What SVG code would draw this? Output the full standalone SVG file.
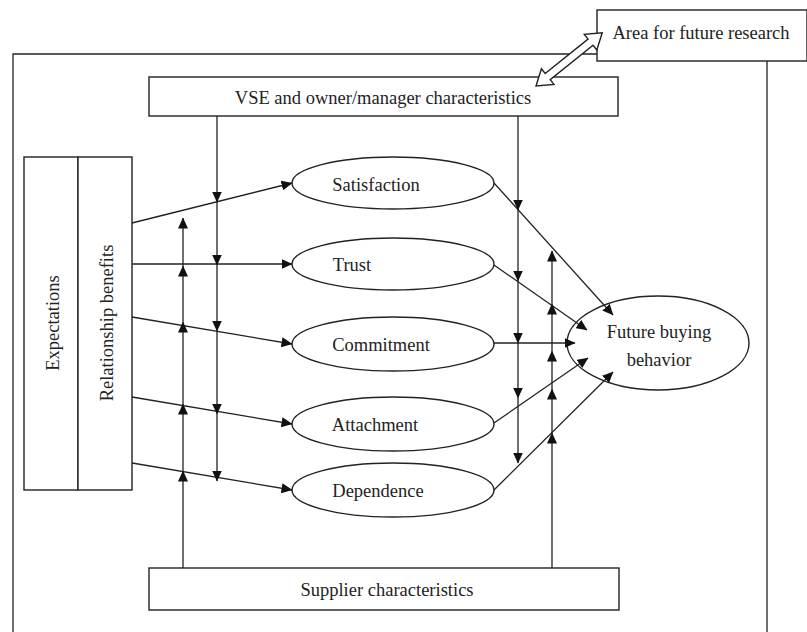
<svg xmlns="http://www.w3.org/2000/svg" width="807" height="632" viewBox="0 0 807 632">
<style>
.b{fill:#fff;stroke:#222;stroke-width:1.4}
.l{fill:none;stroke:#222;stroke-width:1.3}
.a{fill:none;stroke:#222;stroke-width:1.3;marker-end:url(#ah)}
.t{font-family:"Liberation Serif","Times New Roman",serif;font-size:18.5px;fill:#222;text-anchor:middle}
</style>
<defs>
<marker id="ah" markerWidth="11" markerHeight="10" refX="10.5" refY="5" orient="auto" markerUnits="userSpaceOnUse"><path d="M0,0 L11,5 L0,10 z" fill="#111"/></marker>
</defs>
<rect width="807" height="632" fill="#fff"/>
<g id="frame"><path class="l" d="M13,632 V54 H597 M767,61 V632"/></g>
<g id="area"><rect class="b" x="597" y="10" width="210" height="51"/><text class="t" x="701" y="39">Area for future research</text></g>
<g id="vse"><rect class="b" x="149" y="77" width="469" height="39"/><text class="t" x="383" y="104">VSE and owner/manager characteristics</text></g>
<g id="double-arrow"><polygon class="b" transform="translate(536,86) rotate(-38.8)" points="0,0 15,-10 15,-4 70,-4 70,-10 85,0 70,10 70,4 15,4 15,10"/></g>
<g id="supplier"><rect class="b" x="149" y="568" width="470" height="42"/><text class="t" x="387" y="596">Supplier characteristics</text></g>
<g id="expectations"><rect class="b" x="24" y="157" width="54" height="333"/><text class="t" transform="translate(59,323) rotate(-90)">Expectations</text></g>
<g id="benefits"><rect class="b" x="78" y="157" width="54" height="333"/><text class="t" transform="translate(113,323) rotate(-90)">Relationship benefits</text></g>
<g id="satisfaction"><ellipse class="b" cx="393" cy="183" rx="101" ry="26"/><text class="t" x="376" y="191">Satisfaction</text></g>
<g id="trust"><ellipse class="b" cx="393" cy="264" rx="101" ry="26"/><text class="t" x="352" y="271">Trust</text></g>
<g id="commitment"><ellipse class="b" cx="393" cy="344" rx="101" ry="27"/><text class="t" x="381" y="351">Commitment</text></g>
<g id="attachment"><ellipse class="b" cx="393" cy="424" rx="101" ry="27"/><text class="t" x="375" y="431">Attachment</text></g>
<g id="dependence"><ellipse class="b" cx="393" cy="490" rx="101" ry="27"/><text class="t" x="378" y="497">Dependence</text></g>
<g id="future"><ellipse class="b" cx="658" cy="343" rx="91" ry="47"/><text class="t" x="659" y="338">Future buying</text><text class="t" x="659" y="366">behavior</text></g>
<g id="connectors">
<path class="a" d="M132,223 L292,183"/>
<path class="a" d="M132,264 L292,264"/>
<path class="a" d="M132,317 L292,344"/>
<path class="a" d="M132,397 L292,424"/>
<path class="a" d="M132,463 L292,490"/>
<path class="a" d="M494,183 L613,315"/>
<path class="a" d="M494,265 L587,330"/>
<path class="a" d="M494,343 L575,343"/>
<path class="a" d="M494,423 L588,358"/>
<path class="a" d="M494,490 L613,372"/>
<path class="a" d="M217,116 V202"/>
<path class="a" d="M217,202 V265"/>
<path class="a" d="M217,265 V331"/>
<path class="a" d="M217,331 V414"/>
<path class="a" d="M217,414 V481"/>
<path class="a" d="M518,116 V210"/>
<path class="a" d="M518,210 V281"/>
<path class="a" d="M518,281 V343"/>
<path class="a" d="M518,343 V398"/>
<path class="a" d="M518,398 V463"/>
<path class="a" d="M183,568 V471"/>
<path class="a" d="M183,471 V404"/>
<path class="a" d="M183,404 V322"/>
<path class="a" d="M183,322 V266"/>
<path class="a" d="M183,266 V218"/>
<path class="a" d="M552,568 V433"/>
<path class="a" d="M552,433 V389"/>
<path class="a" d="M552,389 V351"/>
<path class="a" d="M552,351 V304"/>
<path class="a" d="M552,304 V251"/>
</g>
</svg>
